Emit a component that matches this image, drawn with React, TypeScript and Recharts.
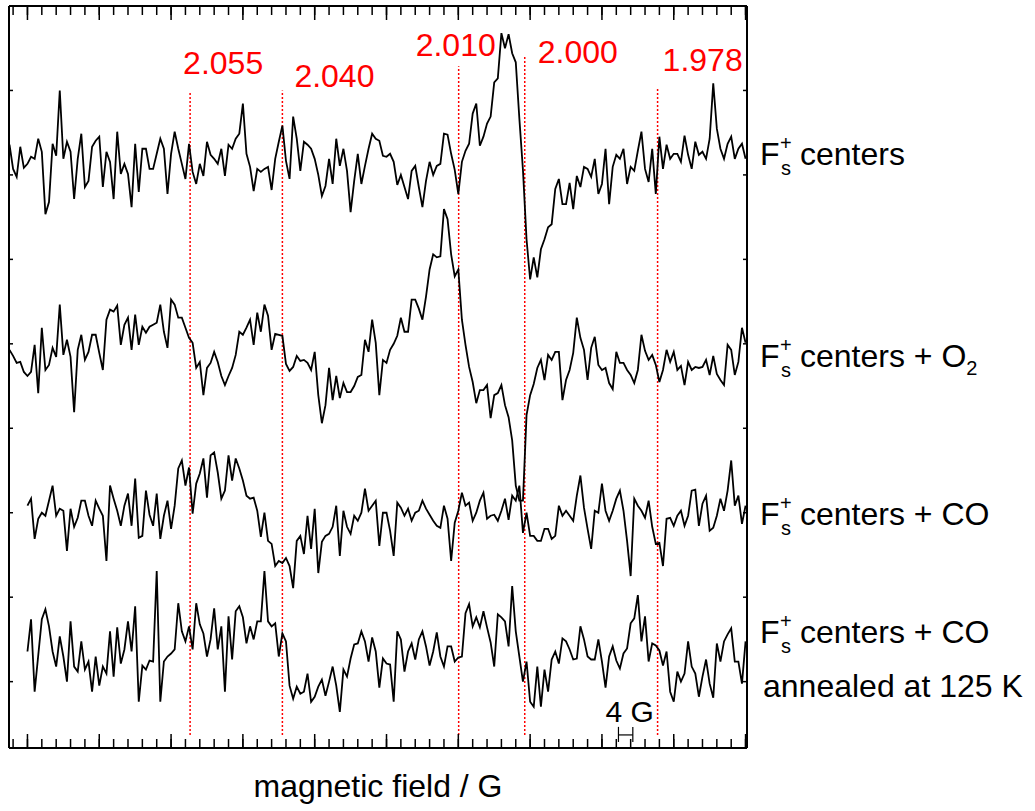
import { LineChart, Line, XAxis, YAxis, ReferenceLine } from "recharts";

// EPR spectra, X band. Field grid of the recorded spectra (G).
const FIELD_START = 3295;
const FIELD_STEP = 1;

// intensity (a.u.) of each spectrum, one value per field step
const fsCenters = [
  19, -5, -13, 17, -4, 0, 7, 5, 25, 12,
  -50, -38, 20, 8, 73, 5, 22, 12, -35, 5,
  30, -23, -17, 17, 23, 27, -23, 12, 2, -35,
  32, -10, 0, -10, -43, 20, -28, 15, 15, -5,
  -5, 10, 25, 15, -30, 10, 32, 15, 0, -15,
  20, -8, -20, 0, -12, 22, 9, 5, 0, 15,
  -12, 19, 15, 25, 30, 60, 10, -3, -27, -5,
  -8, -5, -3, -26, 5, 22, 38, 3, -15, 47,
  25, -7, 22, 19, 15, 5, -11, -32, -22, 5,
  -20, 25, -2, 15, -7, -48, -17, 10, -20, -2,
  15, 30, 25, 23, 8, 7, 10, 2, -21, -11,
  -23, -35, -7, -2, -23, -43, -17, 2, -11, -2,
  0, 30, 29, 10, -6, -30, 2, 13, 20, 50,
  60, 18, 27, 40, 47, 81, 85, 130, 115, 129,
  110, 101, 45, -6, -75, -115, -93, -113, -85, -75,
  -63, -60, -25, -15, -40, -40, -19, -45, -12, -23,
  -3, -5, -13, 5, -30, -20, 15, -40, -3, 9,
  5, 15, -20, -3, -7, 13, 32, -5, -18, 15,
  -30, 27, -5, 19, 5, 10, 10, 2, 28, 9,
  -5, 22, 9, 12, 5, 25, 80, 35, 15, 5,
  20, 27, 5, 15, 20, 5,
];

const fsO2 = [
  -5, -11, -18, -17, -27, -31, -27, 0, -48, 17,
  -25, -20, -3, -12, 40, -10, 5, -12, -67, -5,
  10, -15, -7, 10, 10, -8, -25, 25, 35, 33,
  39, 0, 20, 27, -5, 30, 0, 18, 12, 18,
  20, 22, 40, 13, -3, 45, 40, 27, 27, 17,
  7, 2, -23, -17, -50, -23, -18, -7, -17, -31,
  -40, -31, -23, -10, 13, 10, 17, 25, 0, 32,
  13, 40, 29, -5, 11, 10, 9, -19, -26, -22,
  -11, -16, -15, -18, -25, -7, -50, -78, -60, -23,
  -55, -31, -53, -38, -47, -47, -41, -32, -30, 5,
  -7, 25, 2, -50, -15, -18, -5, 1, 9, 27,
  13, 13, 45, 45, 36, 25, 48, 75, 90, 87,
  88, 135, 125, 90, 68, 75, 25, 0, -22, -37,
  -58, -45, -45, -40, -73, -50, -48, -40, -60, -72,
  -95, -140, -155, -155, -70, -50, -39, -23, -15, -35,
  -10, -15, -7, -7, -55, -35, -25, -8, 27, 7,
  -5, -35, -3, 8, -20, -25, -23, -38, -44, -7,
  -18, -18, -25, -30, -38, -25, 10, -6, -15, -10,
  -20, -37, -25, -5, -17, -7, -25, -21, -40, -17,
  -25, -22, -23, -22, -15, -30, -11, -29, -35, -40,
  0, -5, -30, -17, 17, 2,
];

const fsCO = [
  null, null, null, null, null, 5, 12, -28, -8, -2,
  -5, 10, 25, -5, 2, 0, -40, 2, -16, -7,
  10, 10, -5, -15, 10, 2, -5, -50, 25, 12,
  0, -15, 5, 17, -15, 32, -27, -25, 20, -4,
  -15, 17, -28, -5, 10, -18, 5, 42, 50, 25,
  43, -3, 27, 37, 52, 13, 55, 58, 38, 12,
  20, 55, 30, 52, 42, 30, 15, 12, 13, 0,
  -26, -2, -30, -33, -55, -50, -52, -47, -55, -77,
  -30, -25, -43, -5, -38, 2, -62, -31, -25, -23,
  -16, 5, -45, 0, -16, -23, -5, -10, -2, 22,
  0, 5, 10, -35, -2, -2, -20, -45, 8, 3,
  -5, 2, -10, -2, 0, 10, 2, -4, -10, -15,
  -17, 5, -8, -50, -12, 0, 18, 5, 8, -10,
  -2, 10, 18, -8, -5, -4, -10, 0, 12, -9,
  15, 10, 25, -22, -2, -25, -25, -30, -30, -18,
  -18, -28, -25, 5, -5, 0, -5, -10, 15, 35,
  3, -18, -38, 0, -2, 27, 0, -10, 0, 12,
  20, 0, -30, -65, 12, 5, 0, -7, 10, -16,
  -33, -32, -55, -8, -7, -15, -5, 0, -15, -5,
  20, 21, -15, 7, 15, -20, -17, -5, 12, 0,
  20, 50, 5, 15, -13, 5,
];

const fsCOAnnealed = [
  null, null, null, null, null, 0, 32, -40, -4, 32,
  42, 25, 0, -15, 15, -5, -30, 30, -15, -20,
  10, -18, -10, -40, -5, -34, -15, -22, 20, -25,
  24, -12, 2, 30, 0, 45, -50, -14, -18, -9,
  -10, 80, -50, -10, -5, -2, 2, 48, 20, 10,
  25, 2, 48, 27, 18, -5, 12, 43, 2, 25,
  -40, 35, -8, 40, 45, 34, 8, 25, 12, 30,
  30, 80, 30, 25, 28, -5, 18, 10, -34, -47,
  -35, -42, -40, -22, -50, -45, -35, -28, -44, -30,
  -15, -34, -60, -18, -25, -7, 7, 8, 20, 10,
  -10, 14, 0, -36, -7, -12, -13, -50, 20, 12,
  -20, 0, 8, -8, 12, 20, 5, -14, 0, 19,
  -5, -15, 5, 5, -10, -6, -5, 38, 47, 25,
  34, 24, 40, 24, 9, -15, 37, 34, 30, 5,
  65, 20, -5, -30, -10, -50, -55, -15, -55, -18,
  -40, -8, 0, -12, 13, 10, 2, -8, -7, 25,
  12, -5, -8, -8, 12, -10, -36, -5, 5, -9,
  -17, -2, 3, 28, 33, 56, 10, 35, -10, 8,
  6, 1, -14, 0, -40, -50, -20, -30, -22, 10,
  -15, -22, -45, -25, -8, -32, -46, 8, -10, 10,
  17, 23, -10, -10, -32, 10,
];

// vertical stacking offsets of the four spectra (a.u.)
const traceOffsets = [581, 401, 236, 96];

const speciesNames = ["centers", "centers + O", "centers + CO", "centers + CO"];
const speciesSubs = ["", "2", "", ""];
const annealNote = "annealed at 125 K";

// g markers
const gValues = ["2.055", "2.040", "2.010", "2.000", "1.978"];
const gFields = [3345.3, 3371.0, 3420.1, 3438.5, 3475.5];
const gLineTop = [653, 654, 678, 689, 656];
const gLineBottom = 13;

// 4 G scale bar
const scaleBarFields = [3464.6, 3468.6];
const scaleBarLevel = 13;

const fieldDomain = [3294.86, 3500.4];
const majorFieldTicks = [3300, 3320, 3340, 3360, 3380, 3400, 3420, 3440, 3460, 3480, 3500];
const minorFieldTicks = Array.from({ length: 52 }, (_, i) => 3296 + i * 4);
const intensityDomain = [0, 738];
const intensityTicks = [66, 150, 234, 318, 402, 486, 570, 654];

const data = fsCenters.map((v, i) => ({
  field: FIELD_START + i * FIELD_STEP,
  t1: v + traceOffsets[0],
  t2: fsO2[i] + traceOffsets[1],
  t3: fsCO[i] == null ? null : (fsCO[i] as number) + traceOffsets[2],
  t4: fsCOAnnealed[i] == null ? null : (fsCOAnnealed[i] as number) + traceOffsets[3],
}));

const FONT = '"Liberation Sans", Arial, Helvetica, sans-serif';

// where each g label sits relative to the top of its dotted line
const gLabelShift = [
  [-7, -17],
  [12, -3],
  [-43, -10],
  [13, 8],
  [5, -17],
];

const gLabel = (text: string, idx: number) => (props: any) => {
  const vb = props.viewBox || {};
  return (
    <text
      x={vb.x + gLabelShift[idx][0]}
      y={vb.y + gLabelShift[idx][1]}
      fill="#ff0000"
      fontSize={32}
      fontFamily={FONT}
    >
      {text}
    </text>
  );
};

const scaleLabel = (props: any) => {
  const vb = props.viewBox || {};
  return (
    <text x={vb.x + vb.width / 2 + 4} y={vb.y - 13} fontSize={30} fontFamily={FONT} textAnchor="middle">
      4 G
    </text>
  );
};

// axes carry tick marks only, no numbers
const noLabel = () => <g />;

const speciesBaselines = [165, 367, 525, 643];

const SpeciesLabel = ({ y, name, sub }: { y: number; name: string; sub: string }) => (
  <g fontFamily={FONT} fill="#000">
    <text x={760} y={y} fontSize={32}>F</text>
    <text x={780} y={y - 15} fontSize={20}>+</text>
    <text x={781} y={y + 10} fontSize={20}>s</text>
    <text x={800} y={y} fontSize={32}>
      {name}
      {sub && (
        <tspan fontSize={20} dy={8}>
          {sub}
        </tspan>
      )}
    </text>
  </g>
);

const axisStyle = { stroke: "#000", strokeWidth: 2 };
const tickStyle = { stroke: "#000", strokeWidth: 1.5 };

export default function App() {
  return (
    <div style={{ position: "absolute", left: 0, top: 0, width: 1035, height: 811, background: "#fff" }}>
      <LineChart width={1035} height={811} data={data} margin={{ top: 6, right: 288, bottom: 63, left: 9 }}>
        <XAxis
          xAxisId="major"
          dataKey="field"
          type="number"
          domain={fieldDomain}
          allowDataOverflow
          ticks={majorFieldTicks}
          interval={0}
          tick={noLabel}
          tickSize={14}
          mirror
          height={1}
          axisLine={axisStyle}
          tickLine={tickStyle}
        />
        <XAxis
          xAxisId="minor"
          dataKey="field"
          type="number"
          domain={fieldDomain}
          allowDataOverflow
          ticks={minorFieldTicks}
          interval={0}
          tick={noLabel}
          tickSize={8}
          mirror
          height={1}
          axisLine={false}
          tickLine={tickStyle}
        />
        <XAxis
          xAxisId="topMajor"
          orientation="top"
          dataKey="field"
          type="number"
          domain={fieldDomain}
          allowDataOverflow
          ticks={majorFieldTicks}
          interval={0}
          tick={noLabel}
          tickSize={14}
          mirror
          height={1}
          axisLine={axisStyle}
          tickLine={tickStyle}
        />
        <XAxis
          xAxisId="topMinor"
          orientation="top"
          dataKey="field"
          type="number"
          domain={fieldDomain}
          allowDataOverflow
          ticks={minorFieldTicks}
          interval={0}
          tick={noLabel}
          tickSize={8}
          mirror
          height={1}
          axisLine={false}
          tickLine={tickStyle}
        />
        <YAxis
          yAxisId="left"
          type="number"
          domain={intensityDomain}
          allowDataOverflow
          ticks={intensityTicks}
          interval={0}
          tick={noLabel}
          tickSize={4}
          mirror
          width={1}
          axisLine={axisStyle}
          tickLine={tickStyle}
        />
        <YAxis
          yAxisId="right"
          orientation="right"
          type="number"
          domain={intensityDomain}
          allowDataOverflow
          ticks={intensityTicks}
          interval={0}
          tick={noLabel}
          tickSize={4}
          mirror
          width={1}
          axisLine={axisStyle}
          tickLine={tickStyle}
        />

        {gValues.map((g, i) => (
          <ReferenceLine
            key={g}
            xAxisId="major"
            yAxisId="left"
            segment={[
              { x: gFields[i], y: gLineBottom },
              { x: gFields[i], y: gLineTop[i] },
            ]}
            stroke="#ff0000"
            strokeWidth={1.5}
            strokeDasharray="2 2"
            label={gLabel(g, i)}
          />
        ))}

        {["t1", "t2", "t3", "t4"].map((k) => (
          <Line
            key={k}
            xAxisId="major"
            yAxisId="left"
            dataKey={k}
            type="linear"
            stroke="#000"
            strokeWidth={1.8}
            dot={false}
            activeDot={false}
            connectNulls={false}
            isAnimationActive={false}
          />
        ))}

        <ReferenceLine
          xAxisId="major"
          yAxisId="left"
          segment={[
            { x: scaleBarFields[0], y: scaleBarLevel },
            { x: scaleBarFields[1], y: scaleBarLevel },
          ]}
          stroke="#000"
          strokeWidth={1.2}
          label={scaleLabel}
        />
        {scaleBarFields.map((f) => (
          <ReferenceLine
            key={f}
            xAxisId="major"
            yAxisId="left"
            segment={[
              { x: f, y: scaleBarLevel - 7 },
              { x: f, y: scaleBarLevel + 8 },
            ]}
            stroke="#000"
            strokeWidth={1.2}
          />
        ))}
      </LineChart>

      <svg width={1035} height={811} style={{ position: "absolute", left: 0, top: 0, pointerEvents: "none" }}>
        {speciesNames.map((n, i) => (
          <SpeciesLabel key={i} y={speciesBaselines[i]} name={n} sub={speciesSubs[i]} />
        ))}
        <text x={763} y={697} fontSize={32} fontFamily={FONT}>
          {annealNote}
        </text>
        <text x={378} y={797} fontSize={32} fontFamily={FONT} textAnchor="middle">
          magnetic field / G
        </text>
      </svg>
    </div>
  );
}
